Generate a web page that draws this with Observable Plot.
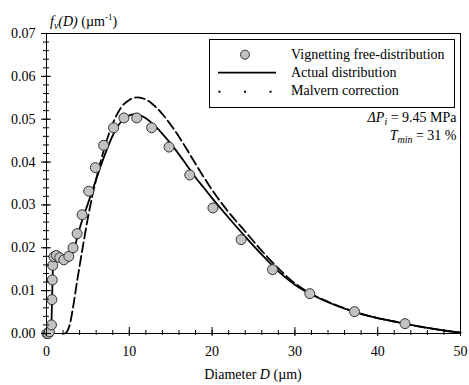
<!DOCTYPE html>
<html><head><meta charset="utf-8">
<script src="https://cdn.jsdelivr.net/npm/d3@7"></script>
<script src="https://cdn.jsdelivr.net/npm/@observablehq/plot@0.6"></script>
</head><body style="margin:0;background:#fff"><div id="chart"></div>
<script>
// Vignetting free-distribution (measured points)
const pointD = [0.05, 0.2, 0.35, 0.6, 0.65, 0.7, 0.75, 0.9, 1.2, 1.6, 2.1, 2.7, 3.2, 3.7, 4.3, 5.1, 5.9, 6.9, 8.1, 9.35, 10.9, 12.7, 14.8, 17.3, 20.1, 23.5, 27.3, 31.8, 37.2, 43.3];
const pointF = [0, 0, 0.0004, 0.002, 0.0079, 0.0125, 0.0159, 0.0179, 0.0182, 0.0177, 0.0172, 0.018, 0.020, 0.0233, 0.0277, 0.0332, 0.0387, 0.0439, 0.048, 0.0503, 0.0503, 0.048, 0.0435, 0.037, 0.0293, 0.0219, 0.0149, 0.0093, 0.0051, 0.0023];
// Actual distribution (solid)
const actualD = [0, 0.4, 0.55, 0.65, 0.75, 0.85, 1.0, 1.3, 1.7, 2.1, 2.5, 2.9, 3.3, 4, 5, 6, 7, 8, 9, 10, 10.8, 12, 13, 14, 15, 16, 17, 18, 19, 20, 22, 24, 26, 28, 30, 32, 34, 36, 38, 40, 42, 44, 46, 48, 50];
const actualF = [0, 0, 0.0005, 0.006, 0.014, 0.0165, 0.0175, 0.0178, 0.0172, 0.0166, 0.0168, 0.0178, 0.0196, 0.0245, 0.0303, 0.036, 0.0415, 0.0462, 0.0494, 0.0509, 0.0512, 0.0502, 0.0486, 0.0466, 0.0443, 0.0418, 0.0391, 0.0364, 0.034, 0.0316, 0.027, 0.0226, 0.0184, 0.0145, 0.0114, 0.0091, 0.0073, 0.0058, 0.0046, 0.0036, 0.0028, 0.002, 0.0013, 0.0007, 0.0002];
// Malvern correction (dashed)
const malvernD = [2.2, 2.5, 2.8, 3.2, 3.6, 4.0, 4.5, 5, 5.5, 6, 7, 8, 9, 10, 11, 12, 13, 14, 15, 16, 17, 18, 20, 22, 24, 26, 28, 30, 32, 34, 36, 38, 40, 42, 44, 46, 48, 50];
const malvernF = [0, 0.0005, 0.002, 0.006, 0.011, 0.0158, 0.0215, 0.027, 0.0318, 0.036, 0.0433, 0.049, 0.0527, 0.0545, 0.0551, 0.0546, 0.0532, 0.0512, 0.0487, 0.0459, 0.0428, 0.0396, 0.0335, 0.0283, 0.0238, 0.0193, 0.0152, 0.0117, 0.0092, 0.0074, 0.0059, 0.0046, 0.0036, 0.0028, 0.002, 0.0013, 0.0007, 0.0002];

const xTicks = [0, 10, 20, 30, 40, 50];
const yTicks = [0, 0.01, 0.02, 0.03, 0.04, 0.05, 0.06, 0.07];
const xMinor = d3.range(0, 26).map(i => i * 2);
const yMinor = d3.range(0, 36).map(i => i * 0.002);

const points = pointD.map((d, i) => ({d, f: pointF[i]}));
const actual = actualD.map((d, i) => ({d, f: actualF[i]}));
const malvern = malvernD.map((d, i) => ({d, f: malvernF[i]}));

const font = "Liberation Serif";

const plot = Plot.plot({
  width: 469, height: 385,
  marginLeft: 46, marginRight: 9, marginTop: 33, marginBottom: 52,
  style: {fontFamily: font, fontSize: "14px", background: "#fff"},
  x: {domain: [0, 50], label: null},
  y: {domain: [0, 0.07], label: null},
  marks: [
    Plot.frame({stroke: "#000", strokeWidth: 1}),
    Plot.line(malvern, {x: "d", y: "f", stroke: "#000", strokeWidth: 1.8, strokeDasharray: "10,4", curve: "monotone-x"}),
    Plot.line(actual, {x: "d", y: "f", stroke: "#000", strokeWidth: 1.8, curve: "monotone-x"}),
    Plot.dot(points, {x: "d", y: "f", r: 5, fill: "#c2c2c2", stroke: "#333", strokeWidth: 1}),
    Plot.axisX({ticks: xMinor, tickSize: 5, dy: -3, fill: "none", label: null, stroke: "#000"}),
    Plot.axisX({ticks: xTicks, tickSize: 9, dy: -6, fill: "none", label: null, stroke: "#000"}),
    Plot.axisX({ticks: xTicks, tickSize: 0, tickPadding: 13, label: null, fill: "#000", fontSize: 14, fontFamily: font}),
    Plot.axisY({ticks: yMinor, tickSize: 6, dx: 3, fill: "none", label: null, stroke: "#000"}),
    Plot.axisY({ticks: yTicks, tickSize: 10, dx: 5, fill: "none", label: null, stroke: "#000"}),
    Plot.axisY({ticks: yTicks, tickSize: 0, tickPadding: 11, tickFormat: d3.format(".2f"), label: null, fill: "#000", fontSize: 14, fontFamily: font})
  ]
});

document.getElementById("chart").appendChild(plot);

const svg = d3.select(plot);
const g = svg.append("g").attr("font-family", font).attr("font-size", 14).attr("fill", "#000").attr("text-anchor", "start");

// Y axis title
const yt = g.append("text").attr("x", 50).attr("y", 26);
yt.append("tspan").attr("font-style", "italic").text("f");
yt.append("tspan").attr("font-style", "italic").attr("font-size", 10).attr("dy", 3).text("v");
yt.append("tspan").attr("font-style", "italic").attr("dy", -3).text("(D)");
yt.append("tspan").text(" (µm");
yt.append("tspan").attr("font-size", 9).attr("dy", -6).text("-1");
yt.append("tspan").attr("dy", 6).text(")");

// X axis title
const xt = g.append("text").attr("x", 253).attr("y", 379).attr("text-anchor", "middle");
xt.append("tspan").text("Diameter ");
xt.append("tspan").attr("font-style", "italic").text("D");
xt.append("tspan").text(" (µm)");

// Legend
const lg = g.append("g");
lg.append("rect").attr("x", 209.5).attr("y", 39.5).attr("width", 245).attr("height", 68)
  .attr("fill", "#fff").attr("stroke", "#000").attr("stroke-width", 1);
lg.append("circle").attr("cx", 245).attr("cy", 54.7).attr("r", 4.5).attr("fill", "#c2c2c2").attr("stroke", "#333");
lg.append("line").attr("x1", 218).attr("x2", 276).attr("y1", 72.7).attr("y2", 72.7).attr("stroke", "#000").attr("stroke-width", 1.8);
[219.5, 245, 270.5].forEach(x => lg.append("rect").attr("x", x - 1).attr("y", 90.7).attr("width", 2).attr("height", 2).attr("fill", "#000"));
lg.append("text").attr("x", 291).attr("y", 59.3).text("Vignetting free-distribution");
lg.append("text").attr("x", 291).attr("y", 77.3).text("Actual distribution");
lg.append("text").attr("x", 291).attr("y", 95.3).text("Malvern correction");

// Annotations
const a1 = g.append("text").attr("x", 456.5).attr("y", 122).attr("text-anchor", "end");
a1.append("tspan").attr("font-style", "italic").text("ΔP");
a1.append("tspan").attr("font-style", "italic").attr("font-size", 10).attr("dy", 3).text("i");
a1.append("tspan").attr("dy", -3).text(" = 9.45 MPa");
const a2 = g.append("text").attr("x", 456.5).attr("y", 139.5).attr("text-anchor", "end");
a2.append("tspan").attr("font-style", "italic").text("T");
a2.append("tspan").attr("font-style", "italic").attr("font-size", 10).attr("dy", 3).text("min");
a2.append("tspan").attr("dy", -3).text(" = 31 %");

// enforce the serif face on every text element
svg.selectAll("text").attr("font-family", font).style("font-family", "'Liberation Serif'");
</script>
</body></html>
